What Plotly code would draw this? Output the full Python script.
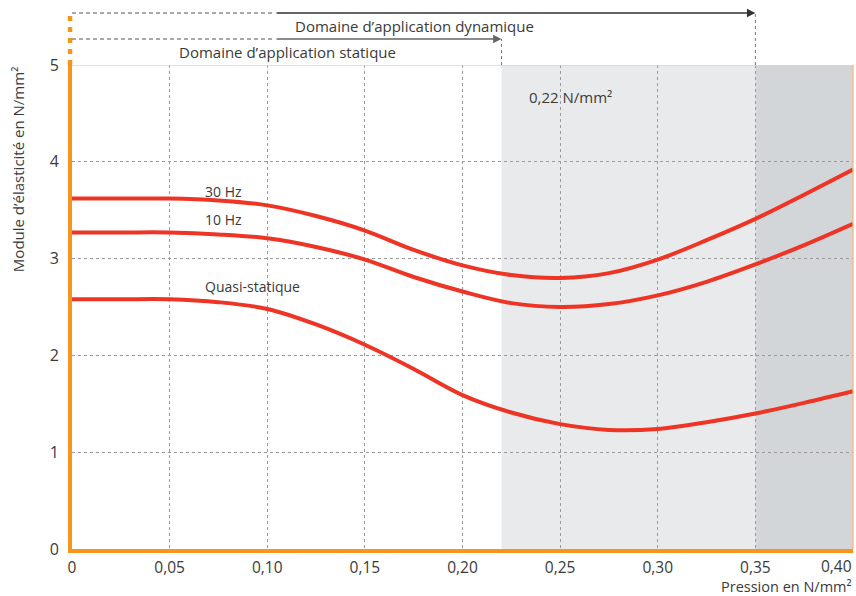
import plotly.graph_objects as go

# Data
pression = [0, 0.025, 0.05, 0.075, 0.10, 0.125, 0.15, 0.175, 0.20, 0.225, 0.25, 0.275, 0.30, 0.325, 0.35, 0.375, 0.40]
hz30 = [3.62, 3.62, 3.62, 3.60, 3.55, 3.44, 3.29, 3.09, 2.93, 2.83, 2.80, 2.85, 2.99, 3.19, 3.41, 3.66, 3.92]
hz10 = [3.27, 3.27, 3.27, 3.25, 3.21, 3.12, 2.99, 2.81, 2.66, 2.54, 2.50, 2.53, 2.62, 2.76, 2.94, 3.14, 3.36]
quasi = [2.58, 2.58, 2.58, 2.55, 2.48, 2.32, 2.11, 1.86, 1.59, 1.41, 1.29, 1.23, 1.24, 1.31, 1.40, 1.51, 1.63]

x_ticks = [0, 0.05, 0.10, 0.15, 0.20, 0.25, 0.30, 0.35]
x_ticktext = ["0", "0,05", "0,10", "0,15", "0,20", "0,25", "0,30", "0,35"]
y_ticks = [0, 1, 2, 3, 4, 5]
y_ticktext = ["0", "1", "2", "3", "4", "5"]

static_limit = 0.22
dynamic_limit = 0.35
x_max = 0.40
dash_end = 0.104

RED = "#ee3424"
ORANGE = "#f7941d"
TXT = "#3a3a3a"
FONT = "Open Sans"

fig = go.Figure()
for name, vals in [("30 Hz", hz30), ("10 Hz", hz10), ("Quasi-statique", quasi)]:
    fig.add_trace(go.Scatter(x=pression, y=vals, mode="lines", name=name,
                             line=dict(color=RED, width=4, shape="spline", smoothing=1.0),
                             showlegend=False, hoverinfo="skip"))

shapes = [
    # shaded ranges
    dict(type="rect", xref="x", yref="paper", x0=static_limit, x1=dynamic_limit, y0=0, y1=1,
         fillcolor="#e9eaec", line=dict(width=0), layer="below"),
    dict(type="rect", xref="x", yref="paper", x0=dynamic_limit, x1=x_max, y0=0, y1=1,
         fillcolor="#d3d6d9", line=dict(width=0), layer="below"),
    # top line at 5 and right border
    dict(type="line", xref="paper", yref="y", x0=0, x1=1, y0=5, y1=5,
         line=dict(color="#f9cf9a", width=1.5)),
    dict(type="line", xref="paper", yref="paper", x0=1, x1=1, y0=0, y1=1,
         line=dict(color="#f5b46a", width=1.2)),
    # dashed orange axis extension
    dict(type="line", xref="paper", yref="paper", x0=-0.0025, x1=-0.0025, y0=1.0, y1=1.1074,
         line=dict(color=ORANGE, width=4.5, dash="5px,6px")),
    # dashed parts of the range arrows
    dict(type="line", xref="x", yref="paper", x0=0, x1=dash_end, y0=1.1074, y1=1.1074,
         line=dict(color="#555555", width=1.2, dash="4px,3px")),
    dict(type="line", xref="x", yref="paper", x0=0, x1=dash_end, y0=1.0537, y1=1.0537,
         line=dict(color="#555555", width=1.2, dash="4px,3px")),
    # vertical dashed extensions above the plot
    dict(type="line", xref="x", yref="paper", x0=static_limit, x1=static_limit, y0=1.0, y1=1.0537,
         line=dict(color="#777777", width=1, dash="3px,3px")),
    dict(type="line", xref="x", yref="paper", x0=dynamic_limit, x1=dynamic_limit, y0=1.0, y1=1.1074,
         line=dict(color="#777777", width=1, dash="3px,3px")),
]

annotations = [
    # arrows
    dict(x=dynamic_limit, y=1.1074, xref="x", yref="paper", ax=dash_end, ay=0, axref="x", ayref="pixel",
         showarrow=True, arrowhead=2, arrowsize=1.3, arrowwidth=1.3, arrowcolor="#333333", text=""),
    dict(x=static_limit, y=1.0537, xref="x", yref="paper", ax=dash_end, ay=0, axref="x", ayref="pixel",
         showarrow=True, arrowhead=2, arrowsize=1.3, arrowwidth=1.3, arrowcolor="#666666", text=""),
    dict(x=0.1132, y=1.0806, xref="x", yref="paper", text="Domaine d’application dynamique",
         showarrow=False, xanchor="left", yanchor="middle", font=dict(size=15, color=TXT, family=FONT)),
    dict(x=0.0538, y=1.0269, xref="x", yref="paper", text="Domaine d’application statique",
         showarrow=False, xanchor="left", yanchor="middle", font=dict(size=15, color=TXT, family=FONT)),
    # curve labels
    dict(x=0.067, y=3.69, xref="x", yref="y", text="30 Hz", showarrow=False, xanchor="left",
         yanchor="middle", font=dict(size=14, color=TXT, family=FONT)),
    dict(x=0.067, y=3.40, xref="x", yref="y", text="10 Hz", showarrow=False, xanchor="left",
         yanchor="middle", font=dict(size=14, color=TXT, family=FONT)),
    dict(x=0.067, y=2.71, xref="x", yref="y", text="Quasi-statique", showarrow=False, xanchor="left",
         yanchor="middle", font=dict(size=14, color=TXT, family=FONT)),
    dict(x=0.233, y=4.67, xref="x", yref="y", text="0,22 N/mm²", showarrow=False, xanchor="left",
         yanchor="middle", font=dict(size=15, color=TXT, family=FONT)),
    # last x tick label, right-aligned
    dict(x=x_max, y=0, xref="x", yref="y", text="0,40", showarrow=False, xanchor="right",
         yanchor="top", yshift=-5, borderpad=0, font=dict(size=15.5, color=TXT, family=FONT)),
    # axis titles
    dict(x=1, y=-0.0985, xref="paper", yref="paper", text="Pression en N/mm²", showarrow=False,
         xanchor="right", yanchor="bottom", borderpad=0,
         font=dict(size=14.5, color=TXT, family=FONT)),
    dict(x=-0.069, y=0.783, xref="paper", yref="paper", text="Module d’élasticité en N/mm²",
         showarrow=False, textangle=-90, xanchor="center", yanchor="middle",
         font=dict(size=15, color=TXT, family=FONT)),
]

fig.update_layout(
    width=856, height=596,
    margin=dict(l=72, r=3, t=65, b=47),
    paper_bgcolor="white", plot_bgcolor="white",
    shapes=shapes, annotations=annotations,
    font=dict(family=FONT, color=TXT, size=16),
    xaxis=dict(range=[0, x_max], tickvals=x_ticks, ticktext=x_ticktext, showgrid=True,
               gridcolor="#9a9a9a", gridwidth=1, griddash="3px,3px", zeroline=False,
               showline=True, linecolor=ORANGE, linewidth=4, ticks="", ticklabelstandoff=1,
               tickfont=dict(size=15.5, color=TXT, family=FONT), fixedrange=True),
    yaxis=dict(range=[0, 5], tickvals=y_ticks, ticktext=y_ticktext, showgrid=True,
               gridcolor="#9a9a9a", gridwidth=1, griddash="3px,3px", zeroline=False,
               showline=True, linecolor=ORANGE, linewidth=4, ticks="", ticklabelstandoff=6,
               tickfont=dict(size=16, color=TXT, family=FONT), fixedrange=True),
)

# remove the default page margin so the figure fills the 856x596 window exactly
fig.write_html("out.html", post_script="document.body.style.margin='0';",
               config={"displayModeBar": False})
